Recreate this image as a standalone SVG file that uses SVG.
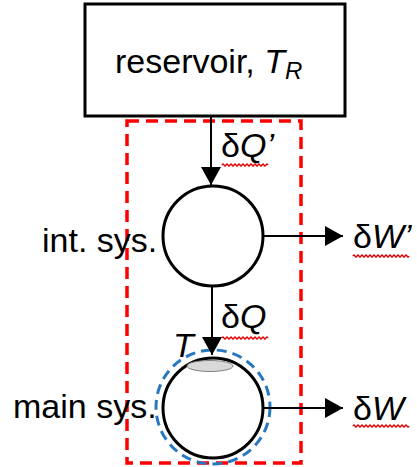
<svg xmlns="http://www.w3.org/2000/svg" width="417" height="467" viewBox="0 0 417 467">
<style>
text { font-family: "Liberation Sans", Arial, sans-serif; font-size: 34px; fill: #000; }
.it { font-style: italic; }
.node { fill: #fff; stroke: #000; stroke-width: 3; }
.conn { stroke: #000; stroke-width: 2; fill: none; }
.squig { stroke: #e00000; stroke-width: 1.5; fill: none; }
</style>
<defs>
<marker id="ah" viewBox="0 0 18 20" refX="18" refY="10" markerWidth="18" markerHeight="20" markerUnits="userSpaceOnUse" orient="auto">
<path d="M0,0 L18,10 L0,20 Z" fill="#000"/>
</marker>
</defs>

<g id="boundary">
<rect x="127" y="121" width="174" height="342" fill="none" stroke="#ff0000" stroke-width="3.5" stroke-dasharray="12,7"/>
</g>

<g id="reservoir">
<rect x="85" y="4" width="260" height="112" class="node"/>
<text x="115" y="73">reservoir, <tspan class="it">T</tspan><tspan class="it" font-size="24" dy="6">R</tspan></text>
</g>

<g id="int-sys">
<circle cx="213" cy="236" r="50" class="node"/>
<text x="42" y="252">int. sys.</text>
</g>

<g id="main-sys">
<circle cx="213" cy="407" r="57" fill="none" stroke="#2878c0" stroke-width="3" stroke-dasharray="10,6"/>
<circle cx="213" cy="408" r="50" class="node"/>
<ellipse cx="210" cy="366" rx="23" ry="5.5" fill="#d9d9d9" stroke="#808080" stroke-width="1"/>
<text x="13" y="418">main sys.</text>
<text x="173" y="357" class="it">T</text>
</g>

<g id="connectors">
<line x1="211" y1="116" x2="211" y2="185" class="conn" marker-end="url(#ah)"/>
<line x1="212" y1="286" x2="212" y2="355" class="conn" marker-end="url(#ah)"/>
<line x1="263" y1="236" x2="343" y2="236" class="conn" marker-end="url(#ah)"/>
<line x1="263" y1="408" x2="343" y2="408" class="conn" marker-end="url(#ah)"/>
</g>

<g id="labels">
<text x="221" y="157">δ<tspan class="it">Q’</tspan></text>
<path class="squig" d="M222 165 q1 -2.2 2 0 t2 0 t2 0 t2 0 t2 0 t2 0 t2 0 t2 0 t2 0 t2 0 t2 0 t2 0 t2 0 t2 0 t2 0 t2 0 t2 0 t2 0 t2 0 t2 0 t2 0 t2 0 t2 0"/>
<text x="221" y="328">δ<tspan class="it">Q</tspan></text>
<path class="squig" d="M222 338 q1 -2.2 2 0 t2 0 t2 0 t2 0 t2 0 t2 0 t2 0 t2 0 t2 0 t2 0 t2 0 t2 0 t2 0 t2 0 t2 0 t2 0 t2 0 t2 0 t2 0 t2 0 t2 0 t2 0 t2 0"/>
<text x="353" y="248">δ<tspan class="it">W’</tspan></text>
<path class="squig" d="M353 256 q1 -2.2 2 0 t2 0 t2 0 t2 0 t2 0 t2 0 t2 0 t2 0 t2 0 t2 0 t2 0 t2 0 t2 0 t2 0 t2 0 t2 0 t2 0 t2 0 t2 0 t2 0 t2 0 t2 0 t2 0 t2 0 t2 0 t2 0 t2 0 t2 0"/>
<text x="353" y="420">δ<tspan class="it">W</tspan></text>
<path class="squig" d="M353 426 q1 -2.2 2 0 t2 0 t2 0 t2 0 t2 0 t2 0 t2 0 t2 0 t2 0 t2 0 t2 0 t2 0 t2 0 t2 0 t2 0 t2 0 t2 0 t2 0 t2 0 t2 0 t2 0 t2 0 t2 0 t2 0 t2 0 t2 0 t2 0 t2 0"/>
</g>
</svg>
